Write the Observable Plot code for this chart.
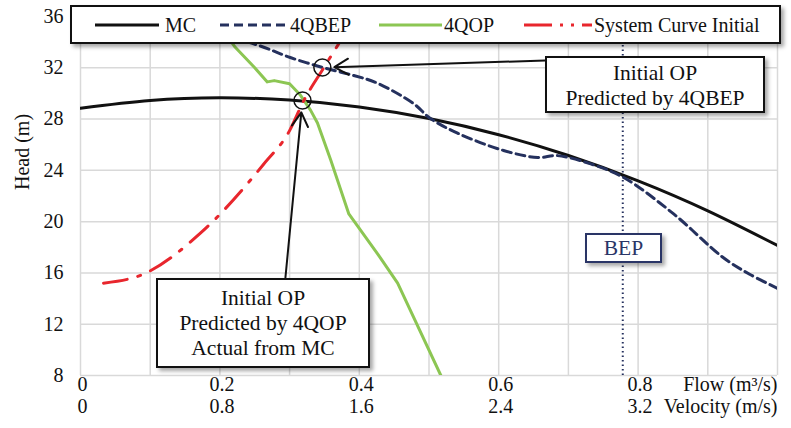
<!DOCTYPE html>
<html><head><meta charset="utf-8">
<script src="https://cdn.jsdelivr.net/npm/d3@7"></script>
<script src="https://cdn.jsdelivr.net/npm/@observablehq/plot@0.6"></script>
<style>
body{margin:0;background:#fff;}
#wrap{position:relative;width:791px;height:428px;font-family:"Liberation Serif","Times New Roman",serif;color:#111;}
.box{position:absolute;background:#fff;border:2px solid #111;box-shadow:3px 3px 4px rgba(0,0,0,0.35);text-align:center;font-size:21.5px;line-height:25px;box-sizing:border-box;white-space:nowrap;}
</style></head><body><div id="wrap"></div>
<script>
// ---- data ----
const mcFlow = [0, 0.1, 0.2, 0.3, 0.4, 0.5, 0.6, 0.7, 0.8, 0.9, 1.0];
const mcHead = [28.85, 29.45, 29.66, 29.48, 28.94, 28.04, 26.78, 25.16, 23.18, 20.84, 18.14];

const qbepFlow = [0.2, 0.258, 0.301, 0.349, 0.392, 0.426, 0.478, 0.502, 0.541, 0.607, 0.656, 0.684, 0.732, 0.779, 0.851, 0.922, 0.96, 1.0];
const qbepHead = [34.6, 33.7, 32.8, 32.0, 31.4, 30.8, 29.2, 28.05, 26.9, 25.55, 25.0, 25.15, 24.5, 23.45, 20.6, 17.2, 15.9, 14.8];

const qopFlow = [0.21, 0.222, 0.25, 0.268, 0.278, 0.30, 0.315, 0.33, 0.34, 0.359, 0.385, 0.43, 0.455, 0.517];
const qopHead = [34.5, 33.6, 32.0, 30.9, 31.0, 30.75, 29.9, 28.7, 27.7, 24.8, 20.6, 17.2, 15.2, 8.0];

const sysFlow = [0.033, 0.09, 0.172, 0.263, 0.30, 0.32, 0.349, 0.373, 0.39];
const sysHead = [15.2, 15.9, 19.1, 24.5, 27.1, 29.4, 32.0, 34.1, 35.6];

const bepFlow = [0.778];
const opFlow = [0.347, 0.3185];           // operating points (circled)
const opHead = [32.02, 29.45];
const noteFlow = [0.667, 0.294];          // where the arrows leave the note boxes
const noteHead = [32.57, 15.64];

const flowTicks = [0, 0.2, 0.4, 0.6, 0.8];
const velocityLabels = ["0", "0.8", "1.6", "2.4", "3.2"];
const gridFlow = [0, 0.1, 0.2, 0.3, 0.4, 0.5, 0.6, 0.7, 0.8, 0.9, 1.0];
const headTicks = [8, 12, 16, 20, 24, 28, 32, 36];

const seriesNames = ["MC", "4QBEP", "4QOP", "System Curve Initial"];
const colors = {MC: "#111111", "4QBEP": "#25315e", "4QOP": "#8cc653", sys: "#e8262d"};

const toRows = (xs, ys) => xs.map((x, i) => ({x, y: ys[i]}));
const mc = toRows(mcFlow, mcHead);
const qbep = toRows(qbepFlow, qbepHead);
const qop = toRows(qopFlow, qopHead);
const sys = toRows(sysFlow, sysHead);
const ops = toRows(opFlow, opHead);
const arrows = opFlow.map((x, i) => ({x1: noteFlow[i], y1: noteHead[i], x2: x, y2: opHead[i]}));

const chart = Plot.plot({
  width: 791, height: 428,
  marginLeft: 80, marginRight: 14, marginTop: 16, marginBottom: 53,
  x: {domain: [0, 1], axis: null},
  y: {domain: [8, 36], axis: null},
  style: {fontFamily: "'Liberation Serif','Times New Roman',serif", fontSize: "20px", color: "#111", background: "#fff", overflow: "visible"},
  marks: [
    Plot.gridX({ticks: gridFlow, stroke: "#d9d9d9", strokeOpacity: 1, strokeWidth: 1.5}),
    Plot.gridY({ticks: headTicks, stroke: "#d9d9d9", strokeOpacity: 1, strokeWidth: 1.5}),
    Plot.axisY({ticks: headTicks, tickSize: 0, tickPadding: 17, fontSize: 20, label: null}),
    Plot.text(["Head (m)"], {frameAnchor: "left", rotate: -90, dx: -58, dy: -6, fontSize: 20}),
    Plot.text(flowTicks, {x: d => d, text: d => String(d), frameAnchor: "bottom", dy: 15, dx: 2, fontSize: 20}),
    Plot.text(flowTicks, {x: d => d, text: (d, i) => velocityLabels[i], frameAnchor: "bottom", dy: 37, dx: 2, fontSize: 20}),
    Plot.text(["Flow (m³/s)"], {frameAnchor: "bottom-right", textAnchor: "end", dy: 15, fontSize: 20}),
    Plot.text(["Velocity (m/s)"], {frameAnchor: "bottom-right", textAnchor: "end", dy: 37, fontSize: 20}),
    Plot.ruleX(bepFlow, {x: d => d, y1: 8, y2: 36, stroke: colors["4QBEP"], strokeWidth: 2, strokeDasharray: "1.5,3"}),
    Plot.line(mc, {x: "x", y: "y", stroke: colors.MC, strokeWidth: 3, curve: "natural", clip: true}),
    Plot.line(qbep, {x: "x", y: "y", stroke: colors["4QBEP"], strokeWidth: 3, strokeDasharray: "9,5", curve: "catmull-rom", clip: true}),
    Plot.line(qop, {x: "x", y: "y", stroke: colors["4QOP"], strokeWidth: 3, curve: "linear", clip: true}),
    Plot.line(sys, {x: "x", y: "y", stroke: colors.sys, strokeWidth: 3, strokeDasharray: "24,11,3,11", curve: "monotone-x", clip: true}),
    Plot.dot(ops, {x: "x", y: "y", r: 8.5, stroke: "#111", strokeWidth: 1.5, fill: "none"}),
    Plot.arrow(arrows, {x1: "x1", y1: "y1", x2: "x2", y2: "y2", stroke: "#111", strokeWidth: 2, headLength: 12, insetEnd: 12})
  ]
});
const wrap = document.getElementById("wrap");
wrap.appendChild(chart);

// Legend (overlaid on the top of the plot)
const leg = document.createElement("div");
leg.className = "box";
Object.assign(leg.style, {left: "70px", top: "5px", width: "711px", height: "39px"});
const swatches = [
  {x1: 23, x2: 87, tx: 93, stroke: colors.MC, dash: null},
  {x1: 148, x2: 214, tx: 218, stroke: colors["4QBEP"], dash: "9,5"},
  {x1: 307, x2: 370, tx: 372, stroke: colors["4QOP"], dash: null},
  {x1: 452, x2: 520, tx: 522, stroke: colors.sys, dash: "28,8,3,8,3,8"}
];
let svg = '<svg width="707" height="35" style="position:absolute;left:0;top:0">';
swatches.forEach((s, i) => {
  svg += `<line x1="${s.x1}" x2="${s.x2}" y1="18" y2="18" stroke="${s.stroke}" stroke-width="3"${s.dash ? ` stroke-dasharray="${s.dash}"` : ""}/>`;
  svg += `<text x="${s.tx}" y="25" font-size="20" fill="#111" font-family="'Liberation Serif','Times New Roman',serif">${seriesNames[i]}</text>`;
});
svg += "</svg>";
leg.innerHTML = svg;
wrap.appendChild(leg);

// Annotation boxes
function note(lines, left, top, w, h, pad, extra) {
  const d = document.createElement("div");
  d.className = "box";
  Object.assign(d.style, {left: left + "px", top: top + "px", width: w + "px", height: h + "px", paddingTop: pad + "px"}, extra || {});
  d.innerHTML = lines.join("<br>");
  wrap.appendChild(d);
}
note(["Initial OP", "Predicted by 4QBEP"], 545, 56, 220, 57, 3);
note(["Initial OP", "Predicted by 4QOP", "Actual from MC"], 156, 278, 214, 90, 6);
note(["BEP"], 585, 233, 77, 30, 1, {border: "2.5px solid #2a3566", color: "#2a3566", lineHeight: "25px"});
</script></body></html>
